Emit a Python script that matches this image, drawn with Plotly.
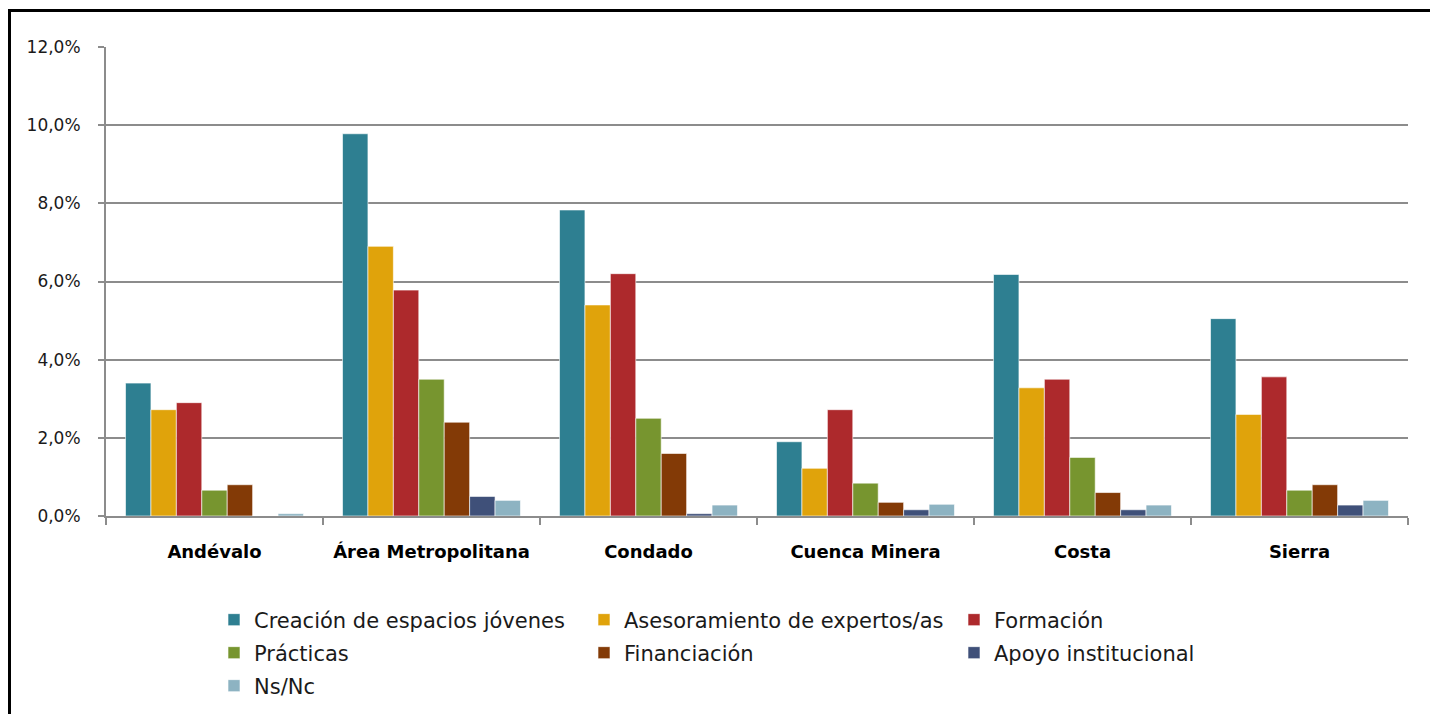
import plotly.graph_objects as go

categories = ["Andévalo", "Área Metropolitana", "Condado", "Cuenca Minera", "Costa", "Sierra"]
series_names = ["Creación de espacios jóvenes", "Asesoramiento de expertos/as", "Formación",
                "Prácticas", "Financiación", "Apoyo institucional", "Ns/Nc"]
creacion = [3.40, 9.78, 7.83, 1.90, 6.18, 5.05]
asesoramiento = [2.72, 6.90, 5.40, 1.22, 3.28, 2.60]
formacion = [2.90, 5.78, 6.20, 2.72, 3.50, 3.56]
practicas = [0.66, 3.50, 2.50, 0.84, 1.50, 0.66]
financiacion = [0.80, 2.40, 1.60, 0.35, 0.60, 0.80]
apoyo = [0.00, 0.50, 0.06, 0.16, 0.16, 0.28]
nsnc = [0.06, 0.40, 0.28, 0.30, 0.28, 0.40]
colors = ["#2E7F91", "#E0A30B", "#AD292C", "#77952F", "#833A06", "#3F5079", "#8DB3C2"]
y_ticks = [0, 2, 4, 6, 8, 10, 12]
y_tick_labels = ["0,0%", "2,0%", "4,0%", "6,0%", "8,0%", "10,0%", "12,0%"]

all_values = [creacion, asesoramiento, formacion, practicas, financiacion, apoyo, nsnc]
legend_rows = ["legend", "legend", "legend", "legend2", "legend2", "legend2", "legend3"]

fig = go.Figure()
for name, vals, col, lg in zip(series_names, all_values, colors, legend_rows):
    fig.add_trace(go.Bar(name=name, x=categories, y=vals, legend=lg,
                         marker=dict(color=col, line=dict(color="rgba(255,255,255,0.6)", width=1))))

font_family = "DejaVu Sans"
grid = "#8C8C8C"
# page body has an 8px margin
OFF = 8
W, H = 1430, 706
L = 106 - OFF
T = 47 - OFF
R = W - (1408 - OFF)
B = H - (516 - OFF)
pw, ph = W - L - R, H - T - B
bottom_fig = H - B


def leg(yc_window):
    return dict(orientation="h", x=(214 - OFF - L) / pw, xanchor="left",
                y=-((yc_window - OFF) - bottom_fig) / ph, yanchor="middle",
                entrywidth=325, entrywidthmode="pixels", traceorder="normal",
                font=dict(size=21, family=font_family, color="#1a1a1a"), itemwidth=30,
                bgcolor="rgba(0,0,0,0)")


fig.update_layout(
    width=W, height=H,
    margin=dict(l=L, r=R, t=T, b=B, autoexpand=False),
    paper_bgcolor="white", plot_bgcolor="white",
    barmode="group", bargap=0.18, bargroupgap=0,
    font=dict(family=font_family, color="#1a1a1a"),
    showlegend=True,
    legend=leg(620), legend2=leg(653), legend3=leg(686),
    xaxis=dict(showline=True, linecolor=grid, linewidth=2, ticks="outside", tickson="boundaries",
               tickcolor=grid, tickwidth=2, ticklen=7, showgrid=False,
               tickfont=dict(size=18, family=font_family, color="#000", weight="bold"),
               ticklabelstandoff=18),
    yaxis=dict(range=[0, 12], tickvals=y_ticks, ticktext=y_tick_labels,
               showline=True, linecolor=grid, linewidth=2, ticks="outside", tickcolor=grid,
               tickwidth=2, ticklen=6, showgrid=True, gridcolor=grid, gridwidth=1.5,
               zeroline=False, ticklabelstandoff=14,
               tickfont=dict(size=17, family=font_family, color="#1a1a1a")),
)

# outer frame of the chart (left and top edges visible)
fig.add_shape(type="rect", xref="paper", yref="paper",
              x0=(9.5 - OFF - L) / pw, x1=(1500 - OFF - L) / pw,
              y0=-1.0, y1=1 + (T - (10.5 - OFF)) / ph,
              line=dict(color="black", width=3), fillcolor="rgba(0,0,0,0)", layer="above")

fig.write_html("out.html")
